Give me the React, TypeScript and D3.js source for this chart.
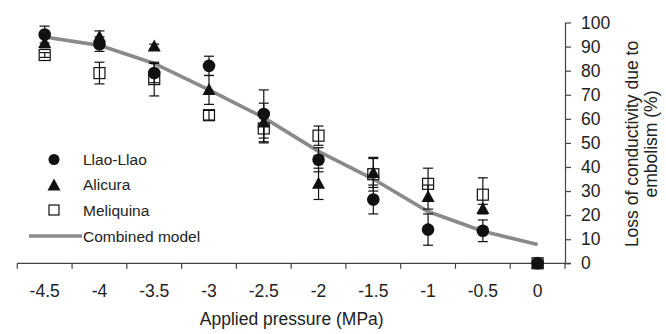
import React, { useEffect, useRef } from "react";
import * as d3 from "d3";

const pressures = ["-4.5", "-4", "-3.5", "-3", "-2.5", "-2", "-1.5", "-1", "-0.5", "0"];
const yTicks = [0, 10, 20, 30, 40, 50, 60, 70, 80, 90, 100];

const llaoValues = [95, 91, 79, 82, 62, 43, 26.5, 14, 13.5, 0];
const llaoErrors = [3.5, 3, 4, 4, 10, 5, 6, 6.5, 4.5, 0];

const alicuraValues = [91.5, 94, 90, 72, 58.5, 33, 37.5, 27.5, 22.5, 0];
const alicuraErrors = [2, 2.5, 1, 6, 8, 6.5, 6, 5, 2, 0];

const meliquinaValues = [86.5, 79, 76.5, 61.5, 56, 53, 37, 33, 28.5, 0];
const meliquinaErrors = [1, 4.5, 7, 2, 6, 4, 7, 6.5, 7, 0];

const modelValues = [94, 90.5, 83, 72, 60.5, 46.5, 35, 21.5, 13.3, 7.8];

const legendItems = ["Llao-Llao", "Alicura", "Meliquina", "Combined model"];

const W = 666;
const H = 334;
const FONT = "'Liberation Sans', Arial, sans-serif";

export default function App() {
  const ref = useRef(null);

  useEffect(() => {
    const svg = d3.select(ref.current);
    svg.selectAll("*").remove();

    const x: any = d3.scaleBand().domain(pressures).range([17.3, 565]).padding(0);
    const y = d3.scaleLinear().domain([0, 100]).range([263.3, 22.5]);
    const cx = (p: string) => x(p) + x.bandwidth() / 2;

    // x axis: line + ticks at category boundaries
    const axisColor = "#444";
    svg
      .append("line")
      .attr("x1", 17.3)
      .attr("x2", 571)
      .attr("y1", y(0))
      .attr("y2", y(0))
      .attr("stroke", axisColor)
      .attr("stroke-width", 1.2);
    const bounds = pressures.map((p) => x(p)).concat([565]);
    svg
      .selectAll("xticks")
      .data(bounds)
      .join("line")
      .attr("x1", (d: any) => d)
      .attr("x2", (d: any) => d)
      .attr("y1", y(0))
      .attr("y2", y(0) + 5.5)
      .attr("stroke", axisColor)
      .attr("stroke-width", 1.2);
    svg
      .selectAll("xlabels")
      .data(pressures)
      .join("text")
      .attr("x", (d: any) => cx(d))
      .attr("y", 297)
      .attr("text-anchor", "middle")
      .style("font-family", FONT)
      .style("font-size", "17.5px")
      .attr("fill", "#222")
      .text((d: any) => d);

    // y axis on right
    const yAxis = svg
      .append("g")
      .attr("transform", "translate(565,0)")
      .call(d3.axisRight(y).tickValues(yTicks).tickSize(6).tickPadding(10).tickSizeOuter(0));
    yAxis.select(".domain").attr("stroke", axisColor).attr("stroke-width", 1.2);
    yAxis.selectAll(".tick line").attr("stroke", axisColor).attr("stroke-width", 1.2);
    yAxis
      .selectAll(".tick text")
      .style("font-family", FONT)
      .style("font-size", "17.5px")
      .attr("fill", "#222");

    // titles
    svg
      .append("text")
      .attr("x", 291.7)
      .attr("y", 325)
      .attr("text-anchor", "middle")
      .style("font-family", FONT)
      .style("font-size", "17.5px")
      .attr("fill", "#222")
      .text("Applied pressure (MPa)");
    const yt = svg
      .append("text")
      .attr("transform", "translate(638,144) rotate(-90)")
      .attr("text-anchor", "middle")
      .style("font-family", FONT)
      .style("font-size", "17.5px")
      .attr("fill", "#222");
    yt.append("tspan").attr("x", 0).attr("y", 0).text("Loss of conductivity due to");
    yt.append("tspan").attr("x", 0).attr("y", 19).text("embolism (%)");

    // combined model
    const line = d3
      .line<number>()
      .x((d, i) => cx(pressures[i]))
      .y((d) => y(d));
    svg
      .append("path")
      .datum(modelValues)
      .attr("d", line)
      .attr("fill", "none")
      .attr("stroke", "#8a8a8a")
      .attr("stroke-width", 3.6);

    // error bars
    const drawErrors = (vals: number[], errs: number[]) => {
      const g = svg.append("g").attr("stroke", "#111").attr("stroke-width", 1.2);
      vals.forEach((v, i) => {
        if (!errs[i]) return;
        const px = cx(pressures[i]);
        g.append("line").attr("x1", px).attr("x2", px).attr("y1", y(v - errs[i])).attr("y2", y(v + errs[i]));
        [v - errs[i], v + errs[i]].forEach((e) => {
          g.append("line").attr("x1", px - 5).attr("x2", px + 5).attr("y1", y(e)).attr("y2", y(e));
        });
      });
    };
    drawErrors(meliquinaValues, meliquinaErrors);
    drawErrors(alicuraValues, alicuraErrors);
    drawErrors(llaoValues, llaoErrors);

    const square = (g: any, px: number, py: number) =>
      g
        .append("rect")
        .attr("x", px - 5.5)
        .attr("y", py - 5.5)
        .attr("width", 11)
        .attr("height", 11)
        .attr("fill", "none")
        .attr("stroke", "#111")
        .attr("stroke-width", 1.2);
    const tri = (g: any, px: number, py: number) =>
      g
        .append("path")
        .attr("d", `M${px},${py - 7}L${px + 6.5},${py + 5}L${px - 6.5},${py + 5}Z`)
        .attr("fill", "#111");
    const circ = (g: any, px: number, py: number) =>
      g.append("circle").attr("cx", px).attr("cy", py).attr("r", 6.3).attr("fill", "#111");

    const marks = svg.append("g");
    meliquinaValues.forEach((v, i) => square(marks, cx(pressures[i]), y(v)));
    alicuraValues.forEach((v, i) => tri(marks, cx(pressures[i]), y(v)));
    llaoValues.forEach((v, i) => circ(marks, cx(pressures[i]), y(v)));

    // legend
    const lg = svg.append("g");
    circ(lg, 54, 159.5).attr("r", 5.5);
    tri(lg, 54, 185.5);
    square(lg, 54, 210).attr("width", 10).attr("height", 10).attr("x", 49).attr("y", 205);
    lg.append("line")
      .attr("x1", 29)
      .attr("x2", 82)
      .attr("y1", 236)
      .attr("y2", 236)
      .attr("stroke", "#8a8a8a")
      .attr("stroke-width", 3.6);
    lg.selectAll("ltext")
      .data(legendItems)
      .join("text")
      .attr("x", 83)
      .attr("y", (d: any, i: number) => [165, 190, 215.5, 241.5][i])
      .style("font-family", FONT)
      .style("font-size", "15.5px")
      .attr("fill", "#222")
      .text((d: any) => d);
  }, []);

  return (
    <svg
      ref={ref}
      width={W}
      height={H}
      style={{ position: "absolute", left: 0, top: 0, background: "#fff" }}
    ></svg>
  );
}
